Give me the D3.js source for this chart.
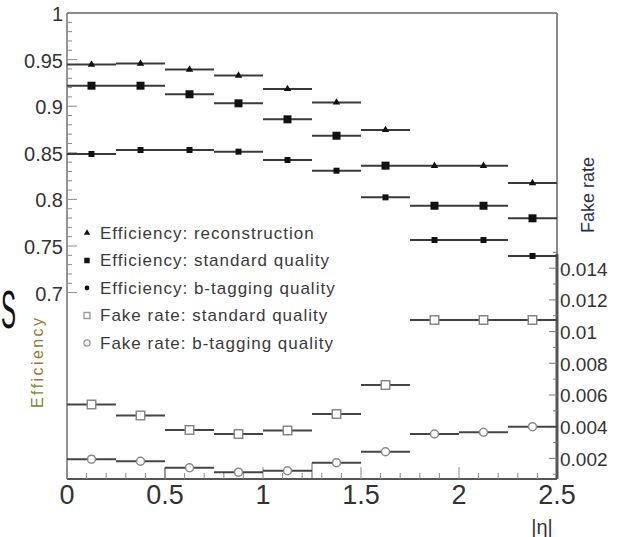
<!DOCTYPE html>
<html>
<head>
<meta charset="utf-8">
<script src="https://cdn.jsdelivr.net/npm/d3@7/dist/d3.min.js"></script>
<style>
  html, body { margin: 0; padding: 0; background: #fff; }
  svg { display: block; font-family: "Liberation Sans", Arial, sans-serif; }
</style>
</head>
<body>
<svg id="chart" width="622" height="537"></svg>
<script>
// ---- data ----
const binEdges = [0, 0.25, 0.5, 0.75, 1.0, 1.25, 1.5, 1.75, 2.0, 2.25, 2.5];
const effReco     = [0.9447, 0.9458, 0.9394, 0.9329, 0.9185, 0.9040, 0.8745, 0.8360, 0.8360, 0.8176];
const effStandard = [0.9220, 0.9220, 0.9128, 0.9031, 0.8859, 0.8683, 0.8362, 0.7932, 0.7932, 0.7797];
const effBtag     = [0.8487, 0.8530, 0.8530, 0.8512, 0.8423, 0.8308, 0.8022, 0.7564, 0.7564, 0.7393];
const fakeStandard = [0.00540, 0.00470, 0.00379, 0.00354, 0.00376, 0.00480, 0.00663, 0.01073, 0.01073, 0.01073];
const fakeBtag     = [0.00195, 0.00182, 0.00141, 0.00113, 0.00122, 0.00173, 0.00242, 0.00354, 0.00365, 0.00400];
const xTickLabels = [0, 0.5, 1, 1.5, 2, 2.5];
const yLeftTickLabels = [0.7, 0.75, 0.8, 0.85, 0.9, 0.95, 1];
const yRightTickLabels = [0.002, 0.004, 0.006, 0.008, 0.01, 0.012, 0.014];
const legendLabels = [
  "Efficiency: reconstruction",
  "Efficiency: standard quality",
  "Efficiency: b-tagging quality",
  "Fake rate: standard quality",
  "Fake rate: b-tagging quality"
];

// ---- layout ----
const svg = d3.select("#chart");
const L = 67, R = 557, T = 13, B = 479;
const x = d3.scaleLinear().domain([0, 2.5]).range([L, R]);
const yL = d3.scaleLinear().domain([0.5, 1]).range([B, T]);
const yR = d3.scaleLinear().domain([0.0007, 0.0301]).range([B, T]);

// frame (top & right, light gray)
svg.append("line").attr("x1", L).attr("x2", R).attr("y1", T).attr("y2", T)
  .attr("stroke", "#8a8a8a").attr("stroke-width", 2);
svg.append("line").attr("x1", R).attr("x2", R).attr("y1", T).attr("y2", B)
  .attr("stroke", "#8a8a8a").attr("stroke-width", 2);

// ---- left axis ----
const gL = svg.append("g");
gL.append("line").attr("x1", L).attr("x2", L).attr("y1", T).attr("y2", B)
  .attr("stroke", "#7a7a7a").attr("stroke-width", 1.6);
d3.range(70, 101, 1).map(v => v / 100).forEach(v => {
  const major = Math.abs(v * 20 - Math.round(v * 20)) < 1e-6;
  gL.append("line").attr("x1", L).attr("x2", L + (major ? 10 : 5))
    .attr("y1", yL(v)).attr("y2", yL(v))
    .attr("stroke", "#8a8a8a").attr("stroke-width", 1);
});
yLeftTickLabels.forEach(v => {
  gL.append("text").attr("x", L - 4).attr("y", yL(v) + 1)
    .attr("text-anchor", "end").attr("dominant-baseline", "central")
    .attr("font-size", 20).attr("fill", "#333")
    .text(d3.format("~g")(v));
});

// ---- bottom axis ----
const gB = svg.append("g");
gB.append("line").attr("x1", L).attr("x2", R).attr("y1", B).attr("y2", B)
  .attr("stroke", "#555").attr("stroke-width", 2);
d3.range(0, 26, 1).map(v => v / 10).forEach(v => {
  const major = Math.abs(v * 2 - Math.round(v * 2)) < 1e-6;
  gB.append("line").attr("x1", x(v)).attr("x2", x(v))
    .attr("y1", B).attr("y2", B - (major ? 12 : 6))
    .attr("stroke", "#888").attr("stroke-width", 1);
});
xTickLabels.forEach(v => {
  gB.append("text").attr("x", x(v)).attr("y", B + 16)
    .attr("text-anchor", "middle").attr("dominant-baseline", "central")
    .attr("font-size", 27).attr("fill", "#333")
    .text(String(v));
});
svg.append("text").attr("x", 542).attr("y", 534).attr("text-anchor", "middle")
  .attr("font-size", 20).attr("fill", "#333").text("|η|");

// ---- right axis ----
const gR = svg.append("g");
gR.append("line").attr("x1", R).attr("x2", R).attr("y1", yR(0.0149)).attr("y2", B)
  .attr("stroke", "#555").attr("stroke-width", 3);
d3.range(1, 16, 1).map(v => v / 1000).forEach(v => {
  const major = (Math.round(v * 1000) % 2) === 0;
  gR.append("line").attr("x1", R).attr("x2", R - (major ? 8 : 4))
    .attr("y1", yR(v)).attr("y2", yR(v))
    .attr("stroke", "#777").attr("stroke-width", 1);
});
yRightTickLabels.forEach(v => {
  gR.append("text").attr("x", R + 3).attr("y", yR(v) + 1)
    .attr("text-anchor", "start").attr("dominant-baseline", "central")
    .attr("font-size", 19).attr("fill", "#333")
    .text(d3.format("~g")(v));
});

// ---- axis titles ----
svg.append("text").attr("transform", "translate(594,195) rotate(-90)")
  .attr("text-anchor", "middle").attr("font-size", 18).attr("fill", "#2b3050")
  .text("Fake rate");
svg.append("text").attr("transform", "translate(43,363) rotate(-90)")
  .attr("text-anchor", "middle").attr("font-size", 16).attr("fill", "#8b7d3a")
  .attr("textLength", 90).attr("lengthAdjust", "spacing")
  .text("Efficiency");
// slide letter fragment at the far left (narrow, kept inside the page)
svg.append("text").attr("x", 1).attr("y", 328).attr("text-anchor", "start")
  .attr("font-size", 53).attr("fill", "#111")
  .attr("textLength", 15).attr("lengthAdjust", "spacingAndGlyphs")
  .text("S");

// ---- series ----
const centers = binEdges.slice(0, -1).map((e, i) => (e + binEdges[i + 1]) / 2);
const series = [
  { vals: effReco,      scale: yL, sym: d3.symbolTriangle, size: 24, fill: "#111", stroke: "none", bar: "#3a3a3a" },
  { vals: effStandard,  scale: yL, sym: d3.symbolSquare,   size: 64, fill: "#111", stroke: "none", bar: "#3a3a3a" },
  { vals: effBtag,      scale: yL, sym: d3.symbolSquare,   size: 36, fill: "#111", stroke: "none", bar: "#3a3a3a" },
  { vals: fakeStandard, scale: yR, sym: d3.symbolSquare,   size: 72, fill: "#fff", stroke: "#888", bar: "#444" },
  { vals: fakeBtag,     scale: yR, sym: d3.symbolCircle,   size: 50, fill: "#fff", stroke: "#888", bar: "#444" }
];

// histogram step edges visible in the fake-rate b-tagging curve
[2, 5].forEach(i => {
  svg.append("line").attr("x1", x(binEdges[i])).attr("x2", x(binEdges[i]))
    .attr("y1", yR(fakeBtag[i])).attr("y2", B)
    .attr("stroke", "#666").attr("stroke-width", 1);
});

series.forEach(s => {
  const g = svg.append("g");
  s.vals.forEach((v, i) => {
    g.append("line").attr("x1", x(binEdges[i])).attr("x2", x(binEdges[i + 1]))
      .attr("y1", s.scale(v)).attr("y2", s.scale(v))
      .attr("stroke", s.bar).attr("stroke-width", 2);
  });
  s.vals.forEach((v, i) => {
    g.append("path").attr("d", d3.symbol().type(s.sym).size(s.size)())
      .attr("transform", `translate(${x(centers[i])},${s.scale(v)})`)
      .attr("fill", s.fill).attr("stroke", s.stroke).attr("stroke-width", 1.5);
  });
});

// ---- legend ----
const lg = svg.append("g");
const legendSyms = [
  { sym: d3.symbolTriangle, size: 18, fill: "#111", stroke: "none" },
  { sym: d3.symbolSquare,   size: 30, fill: "#111", stroke: "none" },
  { sym: d3.symbolCircle,   size: 18, fill: "#111", stroke: "none" },
  { sym: d3.symbolSquare,   size: 36, fill: "#fff", stroke: "#999" },
  { sym: d3.symbolCircle,   size: 30, fill: "#fff", stroke: "#999" }
];
legendLabels.forEach((t, i) => {
  const yy = 233 + i * 27.5;
  lg.append("path").attr("d", d3.symbol().type(legendSyms[i].sym).size(legendSyms[i].size)())
    .attr("transform", `translate(87,${yy})`)
    .attr("fill", legendSyms[i].fill).attr("stroke", legendSyms[i].stroke).attr("stroke-width", 1.3);
  lg.append("text").attr("x", 100).attr("y", yy).attr("dominant-baseline", "central")
    .attr("font-size", 17).attr("letter-spacing", 1).attr("fill", "#3a3a3a")
    .text(t);
});
</script>
</body>
</html>
